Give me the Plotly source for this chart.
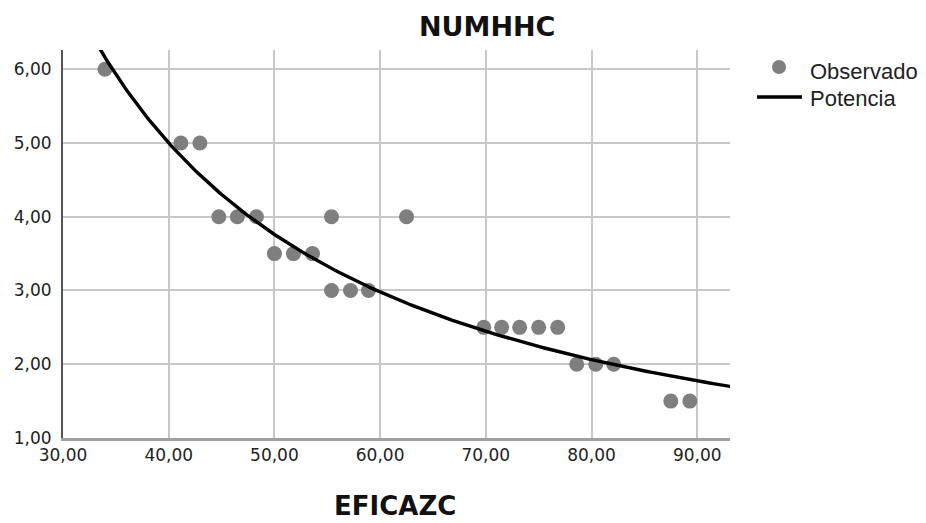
import numpy as np
import plotly.graph_objects as go

eficazc = [33.97, 41.15, 42.95, 44.74, 46.5, 48.3, 55.4, 62.5,
           50.0, 51.8, 53.6, 55.4, 57.2, 58.9,
           69.8, 71.5, 73.2, 75.0, 76.8,
           78.6, 80.4, 82.1, 87.5, 89.3]
numhhc = [6.0, 5.0, 5.0, 4.0, 4.0, 4.0, 4.0, 4.0,
          3.5, 3.5, 3.5, 3.0, 3.0, 3.0,
          2.5, 2.5, 2.5, 2.5, 2.5,
          2.0, 2.0, 2.0, 1.5, 1.5]
x_ticks = [30, 40, 50, 60, 70, 80, 90]
y_ticks = [1, 2, 3, 4, 5, 6]
legend_names = ["Observado", "Potencia"]

# Power model y = a * x^b (coefficients)
power_a = 555.6
power_b = -1.277
xc = np.linspace(30, 93.2, 300)
yc = power_a * xc ** power_b

OFF = 8  # page body margin
W, H = 926 - OFF, 523 - OFF
L, R, T, B = 63 - OFF, 730 - OFF, 50 - OFF, 438 - OFF


def px(xp):
    return (xp - OFF - L) / (R - L)


def py(yp):
    return (B - (yp - OFF)) / (B - T)


fig = go.Figure()
fig.add_trace(go.Scatter(x=eficazc, y=numhhc, mode="markers", name=legend_names[0],
                         marker=dict(color="#7f7f7f", size=15), showlegend=False))
fig.add_trace(go.Scatter(x=xc, y=yc, mode="lines", name=legend_names[1],
                         line=dict(color="black", width=3.4), showlegend=False))

shapes = [
    dict(type="circle", xref="paper", yref="paper",
         x0=px(779 - 7), x1=px(779 + 7), y0=py(67 + 7), y1=py(67 - 7),
         fillcolor="#7f7f7f", line=dict(width=0)),
    dict(type="line", xref="paper", yref="paper",
         x0=px(757), x1=px(802), y0=py(97), y1=py(97),
         line=dict(color="black", width=3.5)),
]

fig.update_layout(
    width=W, height=H,
    margin=dict(l=L, r=W - R, t=T, b=H - B, autoexpand=False),
    paper_bgcolor="white", plot_bgcolor="white",
    font=dict(family="DejaVu Sans", size=17, color="#222"),
    separators=",.",
    showlegend=False,
    shapes=shapes,
    xaxis=dict(range=[30, 93.1], tickvals=x_ticks, tickformat=".2f",
               showgrid=True, gridcolor="#c8c8c8", gridwidth=1.5,
               showline=True, linecolor="#a0a0a0", linewidth=3,
               zeroline=False, ticks="", automargin=False,
               tickfont=dict(size=17)),
    yaxis=dict(range=[1, 6.26], tickvals=y_ticks, tickformat=".2f",
               showgrid=True, gridcolor="#c8c8c8", gridwidth=1.5,
               showline=True, linecolor="#555", linewidth=2,
               zeroline=False, ticks="", automargin=False,
               ticklabelstandoff=6, tickfont=dict(size=17)),
    annotations=[
        dict(text="<b>NUMHHC</b>", x=px(487), y=py(27),
             xref="paper", yref="paper", xanchor="center", yanchor="middle",
             showarrow=False, font=dict(family="DejaVu Sans", size=27, color="#111")),
        dict(text="<b>EFICAZC</b>", x=px(395), y=py(506),
             xref="paper", yref="paper", xanchor="center", yanchor="middle",
             showarrow=False, font=dict(family="DejaVu Sans", size=26, color="#111")),
        dict(text=legend_names[0], x=px(808), y=py(71),
             xref="paper", yref="paper", xanchor="left", yanchor="middle",
             showarrow=False, font=dict(family="Liberation Sans", size=22, color="#222")),
        dict(text=legend_names[1], x=px(808), y=py(98),
             xref="paper", yref="paper", xanchor="left", yanchor="middle",
             showarrow=False, font=dict(family="Liberation Sans", size=22, color="#222")),
    ],
)
fig.write_html("out.html")
